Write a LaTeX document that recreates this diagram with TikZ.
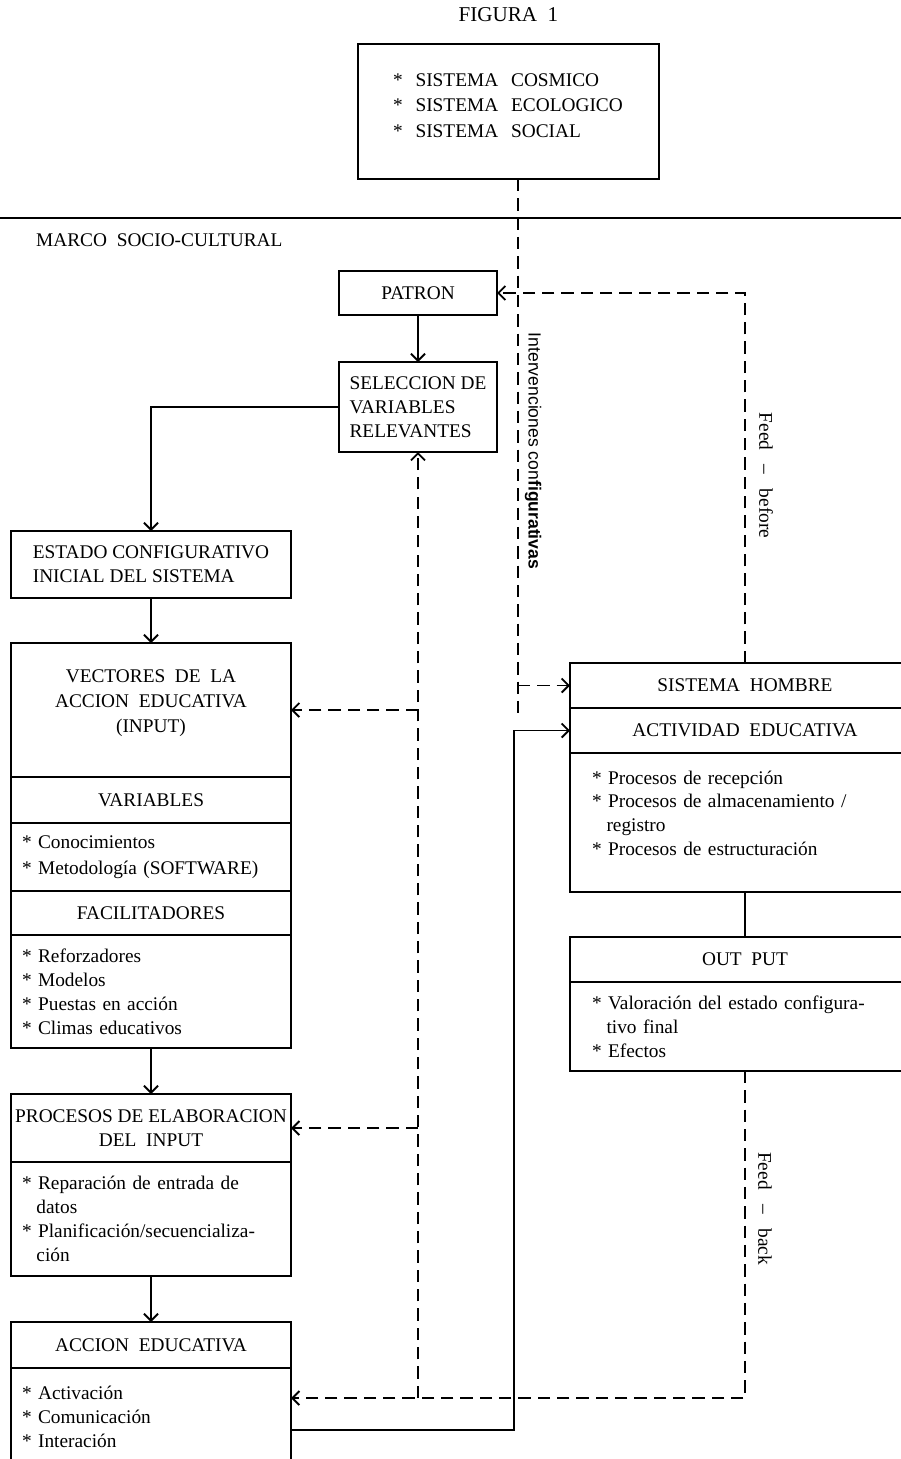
\documentclass[tikz,border=0pt]{standalone}
\usepackage{fontspec}
\setmainfont{Liberation Serif}
\newfontfamily\sansfont{Liberation Sans}
\usetikzlibrary{arrows.meta, positioning}

\newcommand{\estr}{*}

\tikzset{
    txt/.style={font=\fontsize{11}{13.6}\selectfont},
    cell/.style={txt, draw, line width=0.8pt, inner sep=0pt, outer sep=0pt, align=center},
    lbox/.style={cell, minimum width=5.6cm},
    rbox/.style={cell, minimum width=7cm},
    items/.style={align=left, inner xsep=0.22cm, text width=5.16cm},
    ritems/.style={align=left, inner xsep=0.44cm, text width=6.12cm},
    arr/.style={line width=0.8pt, -{Straight Barb[length=4pt, width=8pt, line width=1.1pt]}},
    dsh/.style={line width=0.9pt, dash pattern=on 7pt off 4pt},
    lbl/.style={txt, rotate=-90}
}

\begin{document}
\begin{tikzpicture}
    \useasboundingbox (0,0) rectangle (18.02,-29.18);

    \node[font=\fontsize{12}{14}\selectfont] (fig) at (10.17,-0.3) {FIGURA~~1};
    \node[cell, minimum width=6.02cm, minimum height=2.7cm, anchor=north west, align=left, text width=4.62cm, inner xsep=0.7cm] (cosmos) at (7.16,-0.88) {
        *~~SISTEMA~~COSMICO\\[0.8pt]
        \estr~~SISTEMA~~ECOLOGICO\\[0.8pt]
        \estr~~SISTEMA~~SOCIAL\\[-6.8pt]\mbox{}
    };

    \draw[line width=0.8pt] (0,-4.36) -- (18.02,-4.36);
    \node[txt, anchor=west] (marco) at (0.6,-4.8) {MARCO~~SOCIO-CULTURAL};

    \node[cell, minimum width=3.16cm, minimum height=0.88cm, anchor=north west] (patron) at (6.78,-5.42) {PATRON};
    \node[cell, minimum width=3.16cm, minimum height=1.8cm, anchor=north west, align=left] (sel) at (6.78,-7.24) {SELECCION DE\\VARIABLES\\RELEVANTES};

    \node[lbox, minimum height=1.34cm, anchor=north west, align=left] (estado) at (0.22,-10.62) {ESTADO CONFIGURATIVO\\INICIAL DEL SISTEMA};

    \node[lbox, minimum height=2.68cm, anchor=north west] (vec) at (0.22,-12.86) {VECTORES~~DE~~LA\\[0.6pt]ACCION~~EDUCATIVA\\[0.6pt](INPUT)\\[-3.4pt]};
    \node[lbox, minimum height=0.92cm, below=0pt of vec] (var) {VARIABLES};
    \node[lbox, items, minimum height=1.36cm, below=0pt of var] (varlist) {*~Conocimientos\\[1pt]\estr~Metodología (SOFTWARE)};
    \node[lbox, minimum height=0.88cm, below=0pt of varlist] (fac) {FACILITADORES};
    \node[lbox, items, minimum height=2.26cm, below=0pt of fac] (faclist) {*~Reforzadores\\\estr~Modelos\\\estr~Puestas en acción\\\estr~Climas educativos};

    \node[lbox, minimum height=1.36cm, anchor=north west] (proc) at (0.22,-21.88) {PROCESOS DE ELABORACION\\DEL~~INPUT};
    \node[lbox, items, minimum height=2.28cm, below=0pt of proc] (proclist) {*~Reparación de entrada de\\\hspace*{0.75em}datos\\\estr~Planificación/secuencializa-\\\hspace*{0.75em}ción};

    \node[lbox, minimum height=0.92cm, anchor=north west] (acc) at (0.22,-26.44) {ACCION~~EDUCATIVA};
    \node[lbox, items, minimum height=1.94cm, below=0pt of acc] (acclist) {*~Activación\\\estr~Comunicación\\\estr~Interación};

    \node[rbox, minimum height=0.9cm, anchor=north west] (sist) at (11.4,-13.26) {SISTEMA~~HOMBRE};
    \node[rbox, minimum height=0.9cm, below=0pt of sist] (activ) {ACTIVIDAD~~EDUCATIVA};
    \node[rbox, ritems, minimum height=2.78cm, below=0pt of activ] (activlist) {*~Procesos de recepción\\\estr~Procesos de almacenamiento /\\\hspace*{0.75em}registro\\\estr~Procesos de estructuración\\[-3pt]\mbox{}};
    \node[rbox, minimum height=0.9cm, anchor=north west] (out) at (11.4,-18.74) {OUT~~PUT};
    \node[rbox, ritems, minimum height=1.78cm, below=0pt of out] (outlist) {*~Valoración del estado configura-\\\hspace*{0.75em}tivo final\\\estr~Efectos};

    \draw[arr] (patron.south) -- (sel.north);
    \draw[arr] (sel.west) -| (estado.north);
    \draw[arr] (estado.south) -- (vec.north);
    \draw[arr] (faclist.south) -- (proc.north);
    \draw[arr] (proclist.south) -- (acc.north);
    \draw[line width=0.8pt] (activlist.south) -- (out.north);

    \coordinate (up) at (10.28,-28.6);
    \draw[arr] (acclist.east |- up) -- (up) |- (activ.west);

    \coordinate (iv) at (10.36,-14.4);
    \draw[dsh] (cosmos.south -| iv) -- (iv);
    \draw[dsh, arr] (iv |- sist.west) -- (sist.west);

    \draw[dsh, arr] (sist.north) |- (patron.east);

    \coordinate (fb) at (14.9,-27.96);
    \draw[dsh, arr] (outlist.south) |- (acclist.east |- fb);
    \draw[dsh, arr] (sel.south |- fb) -- (sel.south);
    \draw[dsh, arr] (sel.south |- vec.east) -- (vec.east);
    \draw[dsh, arr] (sel.south |- proc.east) -- (proc.east);

    \node[lbl, font=\sansfont\fontsize{10}{12}\selectfont] (interv) at (10.66,-9.02) {Intervenciones con\textbf{figurativas}};
    \node[lbl] (fbefore) at (15.32,-9.51) {Feed\ \ \ --\ \ \ before};
    \node[lbl] (fback) at (15.3,-24.17) {Feed\ \ \ --\ \ \ back};
\end{tikzpicture}
\end{document}
